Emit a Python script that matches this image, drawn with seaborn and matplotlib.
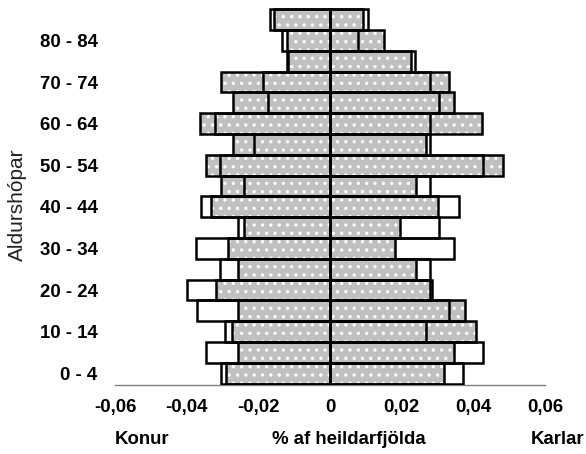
import matplotlib
matplotlib.use("Agg")
import matplotlib.pyplot as plt
import seaborn as sns
import pandas as pd

# Age groups, top row first (85+) down to 0 - 4
AGE_GROUPS = ["85+", "80 - 84", "75 - 79", "70 - 74", "65 - 69", "60 - 64",
              "55 - 59", "50 - 54", "45 - 49", "40 - 44", "35 - 39", "30 - 34",
              "25 - 29", "20 - 24", "15 - 19", "10 - 14", "5 - 9", "0 - 4"]

# Women (left, negative) - outline series and dotted series
WOMEN_OUTLINE = [-0.0168, -0.0135, -0.0117, -0.0187, -0.0173, -0.0322,
                 -0.0213, -0.0308, -0.0240, -0.0359, -0.0258, -0.0373,
                 -0.0306, -0.0399, -0.0371, -0.0292, -0.0345, -0.0303]
WOMEN_DOTTED = [-0.0156, -0.0119, -0.0119, -0.0303, -0.0272, -0.0364,
                -0.0272, -0.0347, -0.0303, -0.0333, -0.0240, -0.0286,
                -0.0258, -0.0317, -0.0258, -0.0273, -0.0258, -0.0291]
# Men (right, positive)
MEN_OUTLINE = [0.0105, 0.0079, 0.0238, 0.0280, 0.0305, 0.0278,
               0.0278, 0.0427, 0.0280, 0.0359, 0.0305, 0.0345,
               0.0278, 0.0284, 0.0333, 0.0268, 0.0426, 0.0371]
MEN_DOTTED = [0.0093, 0.0151, 0.0227, 0.0333, 0.0347, 0.0424,
              0.0268, 0.0483, 0.0241, 0.0301, 0.0196, 0.0180,
              0.0241, 0.0278, 0.0378, 0.0408, 0.0347, 0.0319]

SHOWN_AGE_LABELS = ["80 - 84", "70 - 74", "60 - 64", "50 - 54", "40 - 44",
                    "30 - 34", "20 - 24", "10 - 14", "0 - 4"]
X_TICKS = [-0.06, -0.04, -0.02, 0, 0.02, 0.04, 0.06]
X_TICK_LABELS = ["-0,06", "-0,04", "-0,02", "0", "0,02", "0,04", "0,06"]

sns.set_style("white")
plt.rcParams["font.family"] = ["Liberation Sans", "DejaVu Sans"]
plt.rcParams["hatch.linewidth"] = 1.2
plt.rcParams["text.color"] = "black"

FS = 13.4

fig = plt.figure(figsize=(5.86, 4.54), dpi=100)
ax = fig.add_axes([115 / 586, 1 - 384.7 / 454, 430 / 586, (384.7 - 8) / 454])

df = pd.DataFrame({"age": AGE_GROUPS, "w_out": WOMEN_OUTLINE, "w_dot": WOMEN_DOTTED,
                   "m_out": MEN_OUTLINE, "m_dot": MEN_DOTTED})

GRAY = "#c0c0c0"
for col in ["w_dot", "m_dot"]:
    # dotted fill
    sns.barplot(data=df, x=col, y="age", order=AGE_GROUPS, orient="h",
                color=GRAY, saturation=1, width=1.0, errorbar=None,
                hatch="..", edgecolor="white", linewidth=0, ax=ax, zorder=2)
    # its black outline
    sns.barplot(data=df, x=col, y="age", order=AGE_GROUPS, orient="h",
                color="black", fill=False, width=1.0, errorbar=None,
                linewidth=1.8, ax=ax, zorder=3)
for col in ["w_out", "m_out"]:
    sns.barplot(data=df, x=col, y="age", order=AGE_GROUPS, orient="h",
                color="black", fill=False, width=1.0, errorbar=None,
                linewidth=1.8, ax=ax, zorder=4)

ax.axvline(0, color="#808080", lw=1, zorder=1)

ax.set_xlim(-0.06, 0.06)
ax.set_ylim(17.553, -0.5625)
ax.set_xticks(X_TICKS)
ax.set_xticklabels(X_TICK_LABELS, fontsize=FS, fontweight="bold", color="black")
ypos = [AGE_GROUPS.index(a) for a in SHOWN_AGE_LABELS]
ax.set_yticks(ypos)
ax.set_yticklabels(SHOWN_AGE_LABELS, fontsize=FS, fontweight="bold", color="black")
ax.set_xlabel("")
ax.set_ylabel("")
ax.tick_params(axis="y", length=0, pad=12.5)
ax.tick_params(axis="x", length=3.6, width=1, color="#808080", direction="out", pad=6.5)
for s in ["top", "right", "left"]:
    ax.spines[s].set_visible(False)
ax.spines["bottom"].set_color("#808080")
ax.spines["bottom"].set_linewidth(1)
ax.grid(False)

fig.text(17 / 586, 1 - 205 / 454, "Aldurshópar", rotation=90, ha="center",
         va="center", fontsize=15, color="#222222")
fig.text(142 / 586, 1 - 440 / 454, "Konur", ha="center", va="center",
         fontsize=FS, fontweight="bold", color="black")
fig.text(349 / 586, 1 - 440 / 454, "% af heildarfjölda", ha="center", va="center",
         fontsize=FS, fontweight="bold", color="black")
fig.text(558 / 586, 1 - 440 / 454, "Karlar", ha="center", va="center",
         fontsize=FS, fontweight="bold", color="black")

fig.savefig("out.png", dpi=100)
